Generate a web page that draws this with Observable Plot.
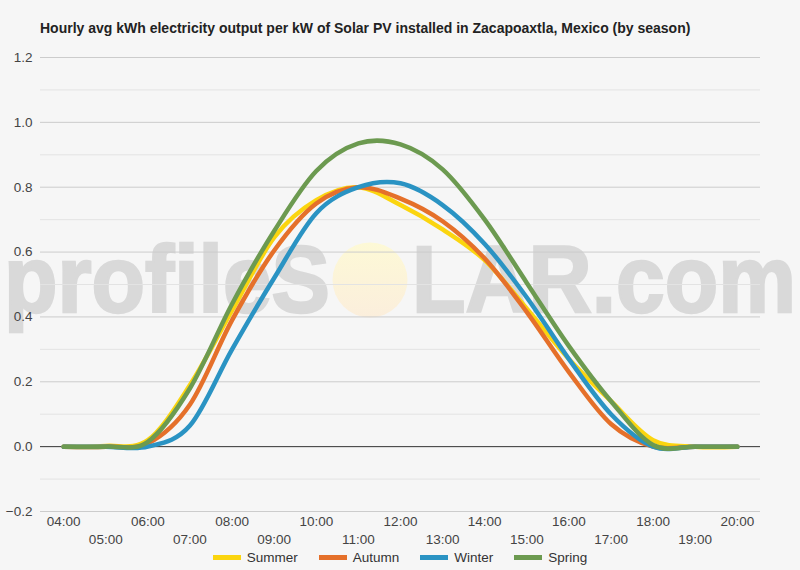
<!DOCTYPE html>
<html>
<head>
<meta charset="utf-8">
<script src="https://cdn.jsdelivr.net/npm/d3@7"></script>
<script src="https://cdn.jsdelivr.net/npm/@observablehq/plot@0.6"></script>
<style>
  html, body { margin: 0; padding: 0; background: #f6f6f6; }
  #wrap { position: relative; width: 800px; height: 570px; overflow: hidden; font-family: "Liberation Sans", Arial, sans-serif; }
  #wm { position: absolute; left: 0; top: 0; z-index: 0; }
  #title { position: relative; z-index: 2; height: 45px; box-sizing: border-box; padding: 20px 0 0 40px; font-size: 14px; line-height: 16px; font-weight: bold; color: #222; }
  #chart { position: relative; z-index: 1; }
  #chart svg { background: transparent; display: block; }
  #legend { position: relative; z-index: 2; display: flex; justify-content: center; gap: 21px; margin-top: 0px; font-size: 13.5px; color: #333; }
  .item { display: flex; align-items: center; gap: 6px; }
  .sw { width: 28px; height: 5px; }
</style>
</head>
<body>
<div id="wrap">
  <svg id="wm" width="800" height="570">
    <defs>
      <linearGradient id="sun" x1="0" y1="0" x2="0" y2="1">
        <stop offset="0" stop-color="#fdf9d6"/>
        <stop offset="1" stop-color="#fbeedc"/>
      </linearGradient>
    </defs>
    <text x="4" y="312" font-size="94" font-weight="bold" fill="#d9d9d9" stroke="#d9d9d9" stroke-width="2.5" textLength="326" lengthAdjust="spacingAndGlyphs" font-family="Liberation Sans, Arial, sans-serif">profileS</text>
    <circle cx="370" cy="280" r="37.5" fill="url(#sun)"/>
    <text x="412" y="312" font-size="94" font-weight="bold" fill="#d9d9d9" stroke="#d9d9d9" stroke-width="2.5" textLength="384" lengthAdjust="spacingAndGlyphs" font-family="Liberation Sans, Arial, sans-serif">LAR.com</text>
  </svg>
  <div id="title">Hourly avg kWh electricity output per kW of Solar PV installed in Zacapoaxtla, Mexico (by season)</div>
  <div id="chart"></div>
  <div id="legend"></div>
</div>
<script>
const hours = ["04:00","05:00","06:00","07:00","08:00","09:00","10:00","11:00","12:00","13:00","14:00","15:00","16:00","17:00","18:00","19:00","20:00"];
const seasons = ["Summer","Autumn","Winter","Spring"];
const colors = ["#fbd50f","#e5702a","#2a93c3","#6c9a50"];
const summer = [0, 0.002, 0.02, 0.19, 0.42, 0.645, 0.76, 0.80, 0.745, 0.67, 0.575, 0.425, 0.27, 0.14, 0.02, 0, 0];
const autumn = [0, 0, 0.01, 0.13, 0.39, 0.605, 0.75, 0.80, 0.765, 0.695, 0.58, 0.415, 0.23, 0.07, 0, 0, 0];
const winter = [0, 0, 0, 0.065, 0.30, 0.52, 0.72, 0.80, 0.812, 0.745, 0.625, 0.46, 0.27, 0.10, 0, 0, 0];
const spring = [0, 0, 0.015, 0.18, 0.44, 0.665, 0.85, 0.935, 0.932, 0.855, 0.70, 0.505, 0.31, 0.14, 0.005, 0, 0];
const yTicks = [-0.2, 0, 0.2, 0.4, 0.6, 0.8, 1.0, 1.2];
const yMinor = [-0.1, 0.1, 0.3, 0.5, 0.7, 0.9, 1.1];

const series = [summer, autumn, winter, spring];
const data = [];
series.forEach((vals, s) => vals.forEach((v, i) => data.push({season: seasons[s], h: i + 4, v})));
const evenH = hours.map((_, i) => i + 4).filter(h => h % 2 === 0);
const oddH = hours.map((_, i) => i + 4).filter(h => h % 2 === 1);
const fmtH = h => hours[h - 4];

const chart = Plot.plot({
  width: 800,
  height: 505,
  marginTop: 12,
  marginBottom: 39,
  marginLeft: 40,
  marginRight: 40,
  style: {background: "transparent", fontFamily: "Liberation Sans, Arial, sans-serif", fontSize: "13.5px", color: "#444"},
  x: {domain: [3.45, 20.55], axis: null},
  y: {domain: [-0.2, 1.2], axis: null},
  color: {domain: seasons, range: colors},
  marks: [
    Plot.ruleY(yMinor, {stroke: "#e3e3e3", strokeWidth: 1}),
    Plot.ruleY(yTicks.filter(d => d !== 0), {stroke: "#cccccc", strokeWidth: 1}),
    Plot.ruleY([0], {stroke: "#333", strokeWidth: 1}),
    Plot.axisY({ticks: yTicks, tickFormat: d3.format(".1f"), tickSize: 0, tickPadding: 8, fill: "#444", fontSize: 13.5, label: null}),
    Plot.axisX({ticks: evenH, tickFormat: fmtH, tickSize: 0, tickPadding: 5, fill: "#444", fontSize: 13.5, label: null}),
    Plot.axisX({ticks: oddH, tickFormat: fmtH, tickSize: 0, tickPadding: 23, fill: "#444", fontSize: 13.5, label: null}),
    Plot.line(data, {x: "h", y: "v", z: "season", stroke: "season", strokeWidth: 4.5, curve: "cardinal", tension: 0, strokeLinecap: "round"})
  ]
});
document.getElementById("chart").appendChild(chart);

const legend = document.getElementById("legend");
seasons.forEach((s, i) => {
  const it = document.createElement("div");
  it.className = "item";
  it.innerHTML = `<span class="sw" style="background:${colors[i]}"></span><span>${s}</span>`;
  legend.appendChild(it);
});
</script>
</body>
</html>
